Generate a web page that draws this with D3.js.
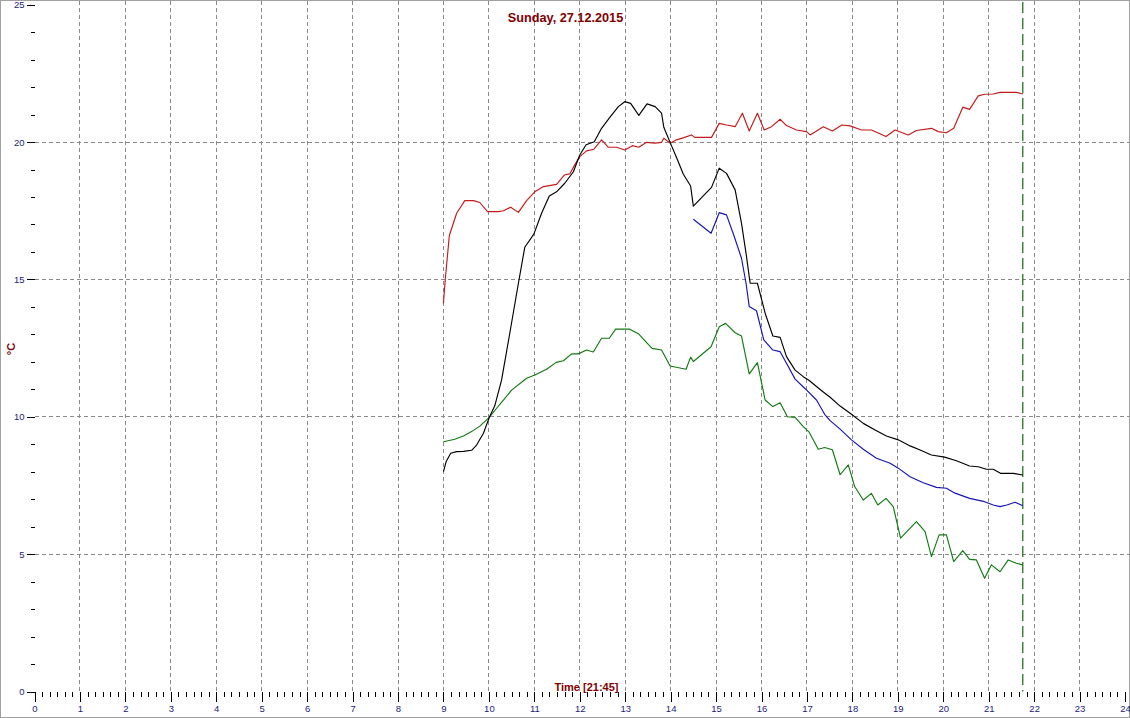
<!DOCTYPE html>
<html>
<head>
<meta charset="utf-8">
<script src="https://cdn.jsdelivr.net/npm/d3@7"></script>
<style>
  html, body { margin: 0; padding: 0; background: #fff; }
  svg { display: block; }
  text { font-family: "Liberation Sans", Arial, sans-serif; }
</style>
</head>
<body>
<svg id="chart" width="1130" height="718"></svg>
<script>
// ---------- DATA ----------
const titleText = "Sunday, 27.12.2015";
const xLabelText = "Time [21:45]";
const yLabelText = "°C";
const hourTicks = d3.range(0, 25);               // 0..24
const yMajorTicks = [0, 5, 10, 15, 20, 25];
const yGridValues = [5, 10, 15, 20];
const currentTime = 21.75;                        // 21:45

const redTimes = [9.00, 9.04, 9.13, 9.29, 9.47, 9.66, 9.80, 9.97, 10.21, 10.32, 10.48, 10.65, 10.83, 11.01, 11.20, 11.49, 11.66, 11.78, 11.89, 12.00, 12.15, 12.31, 12.48, 12.63, 12.81, 12.99, 13.16, 13.30, 13.47, 13.66, 13.80, 13.85, 13.99, 14.13, 14.29, 14.46, 14.53, 14.90, 15.07, 15.23, 15.42, 15.58, 15.73, 15.91, 16.06, 16.22, 16.41, 16.55, 16.77, 16.99, 17.07, 17.36, 17.56, 17.77, 17.95, 18.20, 18.42, 18.74, 18.94, 19.23, 19.41, 19.74, 19.89, 20.07, 20.23, 20.43, 20.58, 20.77, 20.91, 21.10, 21.25, 21.61, 21.75];
const redValues = [14.13, 15.00, 16.60, 17.41, 17.87, 17.87, 17.80, 17.47, 17.47, 17.50, 17.63, 17.44, 17.87, 18.19, 18.38, 18.46, 18.80, 18.84, 19.17, 19.47, 19.68, 19.74, 20.08, 19.81, 19.81, 19.71, 19.87, 19.81, 19.99, 19.96, 19.99, 20.14, 19.96, 20.08, 20.16, 20.26, 20.17, 20.17, 20.68, 20.62, 20.56, 21.05, 20.40, 21.05, 20.44, 20.56, 20.83, 20.60, 20.44, 20.38, 20.26, 20.56, 20.40, 20.62, 20.59, 20.44, 20.44, 20.20, 20.44, 20.26, 20.42, 20.50, 20.38, 20.34, 20.50, 21.27, 21.19, 21.68, 21.74, 21.75, 21.81, 21.81, 21.75];

const blackTimes = [9.00, 9.06, 9.16, 9.29, 9.44, 9.62, 9.73, 9.88, 10.01, 10.13, 10.28, 10.46, 10.65, 10.79, 10.99, 11.16, 11.33, 11.49, 11.67, 11.86, 12.00, 12.14, 12.32, 12.48, 12.67, 12.85, 12.99, 13.12, 13.30, 13.48, 13.66, 13.80, 13.85, 13.99, 14.13, 14.28, 14.44, 14.50, 14.90, 15.07, 15.23, 15.42, 15.56, 15.66, 15.75, 15.91, 16.08, 16.25, 16.41, 16.55, 16.74, 16.92, 17.05, 17.21, 17.36, 17.51, 17.73, 17.98, 18.24, 18.50, 18.75, 19.01, 19.27, 19.49, 19.74, 20.03, 20.29, 20.58, 20.77, 20.95, 21.10, 21.26, 21.54, 21.75];
const blackValues = [8.00, 8.37, 8.67, 8.73, 8.74, 8.78, 8.97, 9.40, 9.98, 10.40, 11.34, 13.04, 14.86, 16.17, 16.65, 17.41, 18.04, 18.19, 18.50, 18.92, 19.53, 19.90, 20.01, 20.50, 20.92, 21.29, 21.47, 21.41, 20.97, 21.39, 21.29, 21.05, 20.54, 19.98, 19.44, 18.83, 18.40, 17.67, 18.35, 19.05, 18.86, 18.26, 17.04, 15.95, 14.86, 14.86, 13.77, 12.94, 12.89, 12.19, 11.70, 11.46, 11.32, 11.10, 10.90, 10.71, 10.39, 10.09, 9.76, 9.52, 9.30, 9.16, 8.94, 8.79, 8.61, 8.53, 8.40, 8.21, 8.18, 8.09, 8.09, 7.94, 7.94, 7.88];

const blueTimes = [14.50, 14.89, 15.07, 15.23, 15.40, 15.56, 15.66, 15.73, 15.89, 16.05, 16.25, 16.41, 16.55, 16.74, 16.95, 17.21, 17.39, 17.51, 17.73, 17.98, 18.24, 18.53, 18.83, 19.01, 19.27, 19.56, 19.85, 20.07, 20.26, 20.58, 20.91, 21.10, 21.25, 21.40, 21.58, 21.75];
const blueValues = [17.19, 16.68, 17.43, 17.35, 16.56, 15.77, 14.86, 14.01, 13.86, 12.80, 12.43, 12.37, 11.95, 11.37, 11.04, 10.61, 10.09, 9.86, 9.55, 9.16, 8.82, 8.49, 8.31, 8.13, 7.82, 7.60, 7.43, 7.40, 7.22, 7.03, 6.91, 6.79, 6.73, 6.79, 6.89, 6.76];

const greenTimes = [9.00, 9.25, 9.44, 9.62, 9.80, 10.01, 10.17, 10.32, 10.50, 10.83, 11.01, 11.27, 11.48, 11.64, 11.82, 11.97, 12.15, 12.30, 12.48, 12.65, 12.79, 13.10, 13.30, 13.59, 13.80, 13.99, 14.34, 14.44, 14.50, 14.89, 15.07, 15.21, 15.42, 15.56, 15.73, 15.91, 16.08, 16.25, 16.41, 16.57, 16.74, 16.92, 17.05, 17.25, 17.39, 17.56, 17.73, 17.91, 18.05, 18.24, 18.42, 18.56, 18.74, 18.90, 19.06, 19.41, 19.60, 19.74, 19.91, 20.07, 20.23, 20.43, 20.58, 20.73, 20.91, 21.06, 21.25, 21.43, 21.61, 21.75];
const greenValues = [9.09, 9.18, 9.30, 9.46, 9.66, 9.98, 10.31, 10.61, 10.97, 11.40, 11.52, 11.73, 11.98, 12.04, 12.29, 12.29, 12.43, 12.36, 12.86, 12.86, 13.19, 13.19, 13.01, 12.49, 12.43, 11.85, 11.73, 12.17, 12.01, 12.55, 13.28, 13.40, 13.06, 12.94, 11.56, 11.97, 10.61, 10.37, 10.51, 10.00, 9.98, 9.64, 9.44, 8.82, 8.88, 8.80, 7.89, 8.25, 7.46, 6.97, 7.21, 6.79, 7.03, 6.73, 5.58, 6.18, 5.82, 4.91, 5.70, 5.70, 4.73, 5.13, 4.81, 4.79, 4.12, 4.61, 4.36, 4.79, 4.67, 4.61];

// ---------- CHART ----------
const W = 1130, H = 718;
const svg = d3.select("#chart");

const x = d3.scaleLinear().domain([0, 24]).range([34.5, 1125]);
const y = d3.scaleLinear().domain([0, 25]).range([691.5, 4.7]);

const tickColor = "#1c1c7a";
const darkRed = "#800000";
const gridColor = "#8a8a8a";

// outer frame
svg.append("rect")
  .attr("x", 0.5).attr("y", 0.5).attr("width", W - 1).attr("height", H - 1)
  .attr("fill", "#fff").attr("stroke", "#a0a0a0").attr("stroke-width", 1);

// grid
const grid = svg.append("g").attr("shape-rendering", "crispEdges");
grid.selectAll("line.v").data(hourTicks.filter(h => h > 0 && h < 24)).join("line")
  .attr("x1", d => x(d)).attr("x2", d => x(d))
  .attr("y1", 1).attr("y2", y(0))
  .attr("stroke", gridColor).attr("stroke-dasharray", "4,3");
grid.selectAll("line.h").data(yGridValues).join("line")
  .attr("x1", x(0)).attr("x2", W - 1)
  .attr("y1", d => y(d)).attr("y2", d => y(d))
  .attr("stroke", gridColor).attr("stroke-dasharray", "4,3");

// axes
const xMinor = d3.range(0, 24 * 6 + 1).map(i => i / 6).filter(v => Math.abs(v - Math.round(v)) > 1e-6);
const yMinor = d3.range(0, 26).filter(v => v % 5 !== 0);

function styleAxis(g) {
  g.select(".domain").remove();
  g.selectAll(".tick line").attr("stroke", "#000").attr("shape-rendering", "crispEdges");
  g.selectAll(".tick text").attr("fill", tickColor).attr("font-size", "9.5px")
    .attr("font-family", "'Liberation Sans', Arial, sans-serif");
}

svg.append("g").attr("transform", `translate(0,${y(0)})`)
  .call(d3.axisBottom(x).tickValues(xMinor).tickSize(5).tickFormat(""))
  .call(styleAxis);
svg.append("g").attr("transform", `translate(0,${y(0)})`)
  .call(d3.axisBottom(x).tickValues(hourTicks).tickSize(10).tickPadding(4).tickFormat(d3.format("d")))
  .call(styleAxis);

svg.append("g").attr("transform", `translate(${x(0)},0)`)
  .call(d3.axisLeft(y).tickValues(yMinor).tickSize(4).tickFormat(""))
  .call(styleAxis);
svg.append("g").attr("transform", `translate(${x(0)},0)`)
  .call(d3.axisLeft(y).tickValues(yMajorTicks).tickSize(8).tickPadding(2).tickFormat(d3.format("d")))
  .call(styleAxis);

// current time marker
svg.append("line")
  .attr("x1", x(currentTime)).attr("x2", x(currentTime))
  .attr("y1", 2).attr("y2", y(0))
  .attr("stroke", "#1f7a1f").attr("stroke-width", 1.3)
  .attr("stroke-dasharray", "11,5");

// series
const line = d3.line().x(d => x(d[0])).y(d => y(d[1]));
const series = [
  { t: redTimes, v: redValues, c: "#c41a1a" },
  { t: greenTimes, v: greenValues, c: "#117a11" },
  { t: blueTimes, v: blueValues, c: "#1414b4" },
  { t: blackTimes, v: blackValues, c: "#000000" }
];
series.forEach(s => {
  svg.append("path")
    .datum(d3.zip(s.t, s.v))
    .attr("d", line)
    .attr("fill", "none")
    .attr("stroke", s.c)
    .attr("stroke-width", 1.15)
    .attr("stroke-linejoin", "round");
});

// texts
svg.append("text")
  .attr("x", 565.5).attr("y", 22)
  .attr("text-anchor", "middle")
  .attr("font-size", "12.7px").attr("font-weight", "bold")
  .attr("fill", darkRed)
  .text(titleText);

svg.append("text")
  .attr("x", 586.5).attr("y", 690.5)
  .attr("text-anchor", "middle")
  .attr("font-size", "11px").attr("font-weight", "bold")
  .attr("fill", darkRed)
  .text(xLabelText);

svg.append("text")
  .attr("transform", "translate(15,349) rotate(-90)")
  .attr("text-anchor", "middle")
  .attr("font-size", "11px").attr("font-weight", "bold")
  .attr("fill", darkRed)
  .text(yLabelText);
</script>
</body>
</html>
